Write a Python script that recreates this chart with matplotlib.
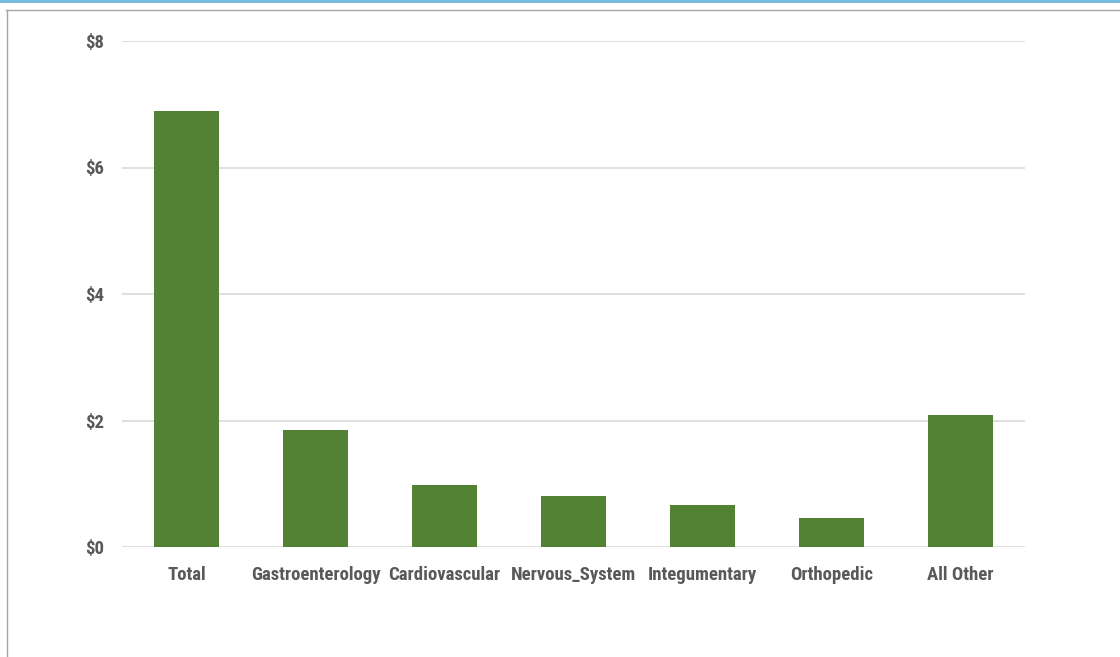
import matplotlib
matplotlib.use("Agg")
import matplotlib.pyplot as plt
from matplotlib import font_manager
from matplotlib.font_manager import FontProperties
from matplotlib.lines import Line2D
import os

categories = ["Total", "Gastroenterology", "Cardiovascular", "Nervous_System",
              "Integumentary", "Orthopedic", "All Other"]
values = [6.89, 1.85, 0.98, 0.81, 0.66, 0.46, 2.09]
yticks = [0, 2, 4, 6, 8]
ytick_labels = ["$0", "$2", "$4", "$6", "$8"]

# find a condensed bold font
files = font_manager.findSystemFonts() + [f.fname for f in font_manager.fontManager.ttflist]
prefs = ["liberationsansnarrow-bold.", "robotocondensed-bold", "opensans_condensed-bold",
         "opensanscondensed-bold", "dejavusanscondensed-bold.", "notosans-condensedbold",
         "notosansdisplay-condensedbold"]
chosen = None
low = {os.path.basename(f).lower(): f for f in files}
for p in prefs:
    for k, v in low.items():
        if k.startswith(p):
            chosen = v
            break
    if chosen:
        break
if chosen is None:
    for k, v in low.items():
        if ("condensed" in k or "narrow" in k) and "bold" in k and "italic" not in k and "oblique" not in k:
            chosen = v
            break
if chosen:
    fp = FontProperties(fname=chosen, size=13.5)
else:
    fp = FontProperties(family="DejaVu Sans", weight="bold", stretch="condensed", size=11)

fig = plt.figure(figsize=(11.2, 6.57), dpi=100)
ax = fig.add_axes([122/1120, 1-547/657, (1025-122)/1120, (547-41)/657])

x = list(range(len(categories)))
ax.bar(x, values, width=0.5, color="#548235", zorder=3)
ax.set_xlim(-0.5, len(categories)-0.5)
ax.set_ylim(0, 8)
ax.set_yticks(yticks)
ax.set_yticklabels(ytick_labels)
ax.set_xticks(x)
ax.set_xticklabels(categories)
ax.yaxis.grid(True, color="#d9d9d9", linewidth=1.2, zorder=0)
for s in ax.spines.values():
    s.set_visible(False)
ax.tick_params(length=0, colors="#595959")
ax.tick_params(axis="y", pad=13)
ax.tick_params(axis="x", pad=14)
for lab in ax.get_xticklabels() + ax.get_yticklabels():
    lab.set_fontproperties(fp)
    lab.set_color("#595959")

# frame lines
fig.add_artist(Line2D([0, 1], [1-1/657, 1-1/657], transform=fig.transFigure, color="#70b8e0", linewidth=2))
fig.add_artist(Line2D([6/1120, 1], [1-9.5/657, 1-9.5/657], transform=fig.transFigure, color="#a6a6a6", linewidth=1))
fig.add_artist(Line2D([6.5/1120, 6.5/1120], [0, 1-9.5/657], transform=fig.transFigure, color="#a6a6a6", linewidth=1))

fig.savefig("out.png", dpi=100)
